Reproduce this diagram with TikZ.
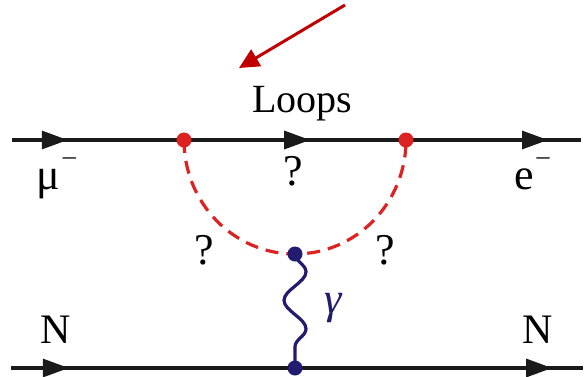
\documentclass[tikz,border=0pt]{standalone}
\usepackage{fontspec}
\setmainfont{Liberation Serif}
\usetikzlibrary{positioning,arrows.meta,decorations.markings,decorations.pathmorphing}
\definecolor{loopred}{HTML}{DD2222}
\definecolor{pointred}{HTML}{C00000}
\definecolor{photonblue}{HTML}{221C6E}
\definecolor{fermiongray}{HTML}{1A1A1A}
\newcommand{\chargeminus}{\kern3pt\raisebox{0.55em}{\fontsize{26}{26}\selectfont –}}

\begin{document}
\begin{tikzpicture}[x=1pt, y=-1pt,
    fermion/.style={fermiongray, line width=3.2pt},
    tipat/.style={postaction={decorate, decoration={markings,
        mark=at position #1 with {\arrow{Triangle[length=26pt, width=18pt]}}}}},
    vertex/.style={circle, fill=#1, inner sep=0pt, minimum size=15pt},
    loopline/.style={loopred, line width=3.2pt, dash pattern=on 13pt off 8pt},
    photon/.style={photonblue, line width=3.2pt, decorate,
        decoration={snake, segment length=57pt, amplitude=11pt}},
    lbl/.style={font=\fontsize{44}{46}\selectfont, inner sep=0pt}]
  \useasboundingbox (0,0) rectangle (585,376);
  % fixed points of the two lines
  \coordinate (muin) at (12,140);
  \coordinate (eout) at (581,140);
  \coordinate (nin) at (11,368);
  \coordinate (nout) at (583,368);
  \coordinate (loopL) at (184,140);
  \coordinate (loopR) at (406,140);
  \coordinate (loopB) at (295,254);
  \coordinate (nucl) at (295,368);
  \coordinate (hintfrom) at (345,5);
  \coordinate (hintto) at (239,68);
  % lines
  \draw[fermion, tipat=0.098, tipat=0.524, tipat=0.942] (muin) -- (eout);
  \draw[fermion, tipat=0.101, tipat=0.946] (nin) -- (nout);
  \draw[loopline] (loopL) arc[start angle=180, end angle=0, x radius=111, y radius=114];
  \draw[photon] (loopB) -- (nucl);
  \draw[pointred, line width=3pt, -{Triangle[length=20pt, width=19pt]}] (hintfrom) -- (hintto);
  % vertices
  \node[vertex=loopred] (va) at (loopL) {};
  \node[vertex=loopred] (vb) at (loopR) {};
  \node[vertex=photonblue] (vg) at (loopB) {};
  \node[vertex=photonblue] (vn) at (nucl) {};
  % labels
  \node[lbl, font=\fontsize{40}{42}\selectfont] (loops) at (302,104) {Loops};
  \node[lbl, anchor=base west] (mu) at (36,189) {μ\chargeminus};
  \node[lbl, anchor=base west] (el) at (514,189) {e\chargeminus};
  \node[lbl] (qmid) at (293,171) {?};
  \node[lbl] (qleft) at (204,250) {?};
  \node[lbl] (qright) at (385,250) {?};
  \node[lbl, photonblue] (gam) at (333,308) {\itshape γ};
  \node[lbl, font=\fontsize{42}{44}\selectfont] (nl) at (56,330) {N};
  \node[lbl, font=\fontsize{42}{44}\selectfont] (nr) at (538,330) {N};
\end{tikzpicture}
\end{document}
